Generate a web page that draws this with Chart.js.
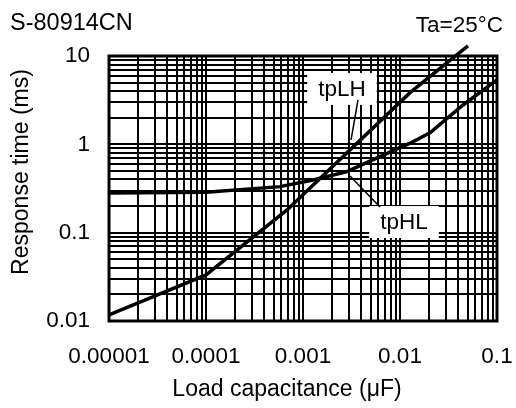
<!DOCTYPE html>
<html>
<head>
<meta charset="utf-8">
<script src="https://cdn.jsdelivr.net/npm/chart.js@4.4.1/dist/chart.umd.min.js"></script>
<style>
  html, body { margin: 0; padding: 0; background: #fff; }
  #wrap { width: 516px; height: 408px; }
</style>
</head>
<body>
<div id="wrap"><canvas id="respChart" width="516" height="408"></canvas></div>
<script>
// load capacitance (uF) / response time (ms)
const tpLHCap = [0.00001, 0.0001, 0.000684, 0.0127, 0.0502];
const tpLHTime = [0.0117, 0.0332, 0.181, 3.85, 13.0];

const tpHLCap = [0.00001, 0.0001, 0.00058, 0.00127, 0.00284, 0.0062, 0.0127, 0.0204, 0.0447, 0.1];
const tpHLTime = [0.282, 0.287, 0.332, 0.395, 0.491, 0.726, 1.03, 1.35, 2.79, 5.36];

const xMajorTicks = [0.00001, 0.0001, 0.001, 0.01, 0.1];
const xTickLabels = ['0.00001', '0.0001', '0.001', '0.01', '0.1'];
const yMajorTicks = [0.01, 0.1, 1, 10];
const yTickLabels = ['0.01', '0.1', '1', '10'];

const FONT = "'Liberation Sans', Arial, sans-serif";

// 1..9 gridlines in every decade
function decadeGrid(majors) {
    const out = [];
    majors.forEach(function (m, i) {
        if (i === majors.length - 1) { out.push(m); return; }
        for (let k = 1; k <= 9; k++) out.push(m * k);
    });
    return out;
}

function majorLabel(value, majors, labels) {
    for (let i = 0; i < majors.length; i++) {
        if (Math.abs(value / majors[i] - 1) < 1e-6) return labels[i];
    }
    return '';
}

function toPoints(xs, ys) {
    return xs.map(function (x, i) { return { x: x, y: ys[i] }; });
}

// curve labels with white boxes and leader lines (data coords)
const curveLabels = [
    { text: 'tpLH', x: 0.00252, y: 4.24, from: [0.00369, 3.18], to: [0.00313, 1.12] },
    { text: 'tpHL', x: 0.011, y: 0.132, from: [0.00622, 0.195], to: [0.00305, 0.438] }
];

const decorPlugin = {
    id: 'decor',
    beforeDatasetsDraw(chart) {
        const ctx = chart.ctx;
        const xs = chart.scales.x, ys = chart.scales.y;
        ctx.save();
        ctx.font = '22.5px ' + FONT;
        curveLabels.forEach(function (l) {
            const px = xs.getPixelForValue(l.x), py = ys.getPixelForValue(l.y);
            const w = ctx.measureText(l.text).width + 22;
            ctx.fillStyle = '#fff';
            ctx.fillRect(px - w / 2, py - 16, w, 32);
            ctx.fillStyle = '#000';
            ctx.textAlign = 'center';
            ctx.textBaseline = 'middle';
            ctx.fillText(l.text, px, py + 1);
            ctx.beginPath();
            ctx.strokeStyle = '#000';
            ctx.lineWidth = 1.5;
            ctx.moveTo(xs.getPixelForValue(l.from[0]), ys.getPixelForValue(l.from[1]));
            ctx.lineTo(xs.getPixelForValue(l.to[0]), ys.getPixelForValue(l.to[1]));
            ctx.stroke();
        });
        ctx.restore();
    },
    afterDraw(chart) {
        const ctx = chart.ctx;
        const a = chart.chartArea;
        ctx.save();
        ctx.strokeStyle = '#000';
        ctx.lineWidth = 3;
        ctx.strokeRect(a.left, a.top, a.right - a.left, a.bottom - a.top);

        ctx.fillStyle = '#000';
        ctx.font = '23.5px ' + FONT;
        ctx.textBaseline = 'alphabetic';
        ctx.textAlign = 'left';
        ctx.fillText('S-80914CN', 10, 30);
        ctx.font = '22.5px ' + FONT;
        ctx.textAlign = 'right';
        ctx.fillText('Ta=25°C', 503, 32);

        ctx.font = '23px ' + FONT;
        ctx.textAlign = 'center';
        ctx.fillText('Load capacitance (μF)', 287, 396);

        ctx.translate(28, 172);
        ctx.rotate(-Math.PI / 2);
        ctx.fillText('Response time (ms)', 0, 0);
        ctx.restore();
    }
};

// stop the scales from reserving room for overhanging labels
function fixPadding(scale) {
    scale.paddingLeft = 0;
    scale.paddingRight = 0;
    scale.paddingTop = 0;
    scale.paddingBottom = 0;
}

const ctx = document.getElementById('respChart').getContext('2d');
new Chart(ctx, {
    type: 'line',
    data: {
        datasets: [
            {
                label: 'tpLH',
                data: toPoints(tpLHCap, tpLHTime),
                borderColor: '#000',
                borderWidth: 3.5,
                pointRadius: 0,
                tension: 0,
                clip: false
            },
            {
                label: 'tpHL',
                data: toPoints(tpHLCap, tpHLTime),
                borderColor: '#000',
                borderWidth: 3.5,
                pointRadius: 0,
                tension: 0
            }
        ]
    },
    options: {
        responsive: false,
        animation: false,
        events: [],
        layout: { padding: { top: 56, right: 19, left: 0, bottom: 0 } },
        plugins: {
            legend: { display: false },
            tooltip: { enabled: false }
        },
        scales: {
            x: {
                type: 'logarithmic',
                min: 0.00001,
                max: 0.1,
                afterBuildTicks: function (scale) {
                    scale.ticks = decadeGrid(xMajorTicks).map(function (v) { return { value: v }; });
                },
                afterFit: function (scale) { scale.height = 87; fixPadding(scale); },
                grid: { color: '#000', lineWidth: 2, drawTicks: false },
                border: { display: false },
                ticks: {
                    autoSkip: false,
                    maxRotation: 0,
                    padding: 22,
                    color: '#000',
                    font: { family: FONT, size: 22.5 },
                    callback: function (v) { return majorLabel(v, xMajorTicks, xTickLabels); }
                }
            },
            y: {
                type: 'logarithmic',
                min: 0.01,
                max: 10,
                afterBuildTicks: function (scale) {
                    scale.ticks = decadeGrid(yMajorTicks).map(function (v) { return { value: v }; });
                },
                afterFit: function (scale) { scale.width = 109; fixPadding(scale); },
                grid: { color: '#000', lineWidth: 2, drawTicks: false },
                border: { display: false },
                ticks: {
                    autoSkip: false,
                    padding: 19,
                    color: '#000',
                    font: { family: FONT, size: 22.5 },
                    callback: function (v) { return majorLabel(v, yMajorTicks, yTickLabels); }
                }
            }
        }
    },
    plugins: [decorPlugin]
});
</script>
</body>
</html>
